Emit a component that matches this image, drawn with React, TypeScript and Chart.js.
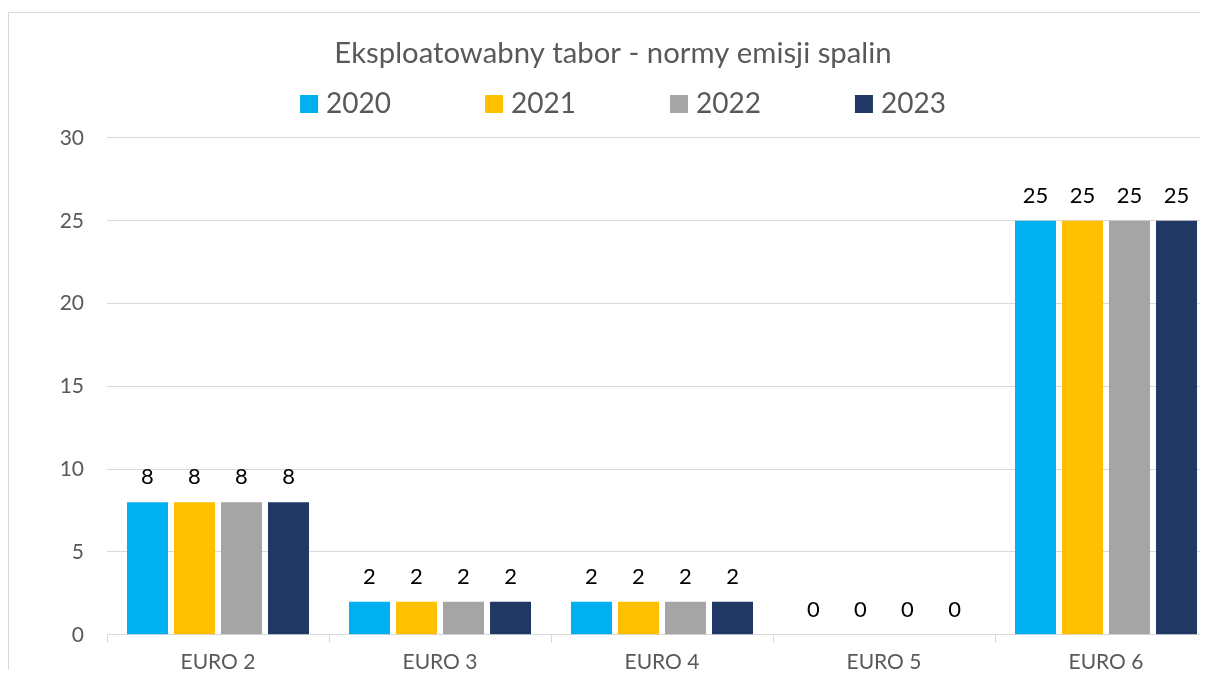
import React, { useEffect, useRef } from "react";
import { Chart, registerables } from "chart.js";

Chart.register(...registerables);

const TITLE = "Eksploatowabny tabor - normy emisji spalin";
const CATEGORIES = ["EURO 2", "EURO 3", "EURO 4", "EURO 5", "EURO 6"];
const YEARS = ["2020", "2021", "2022", "2023"];
const VALUES_2020 = [8, 2, 2, 0, 25];
const VALUES_2021 = [8, 2, 2, 0, 25];
const VALUES_2022 = [8, 2, 2, 0, 25];
const VALUES_2023 = [8, 2, 2, 0, 25];
const SERIES = [VALUES_2020, VALUES_2021, VALUES_2022, VALUES_2023];
const COLORS = ["#00B0F0", "#FFC000", "#A5A5A5", "#203864"];
const Y_MIN = 0;
const Y_MAX = 30;
const Y_STEP = 5;

const FONT = "Lato, 'Open Sans', sans-serif";
const GRAY_TEXT = "#595959";
const GRID = "#D9D9D9";

const dataLabelPlugin = {
  id: "dataLabels",
  afterDatasetsDraw(chart: any) {
    const ctx = chart.ctx;
    ctx.save();
    ctx.font = `22px ${FONT}`;
    ctx.fillStyle = "#000000";
    ctx.textAlign = "center";
    ctx.textBaseline = "alphabetic";
    chart.data.datasets.forEach((ds: any, i: number) => {
      const meta = chart.getDatasetMeta(i);
      meta.data.forEach((el: any, j: number) => {
        ctx.fillText(String(ds.data[j]), el.x, el.y - 18);
      });
    });
    ctx.restore();
  },
};

const customLegendPlugin = {
  id: "customLegend",
  afterDraw(chart: any) {
    const ctx = chart.ctx;
    ctx.save();
    const fontSize = 28;
    ctx.font = `${fontSize}px ${FONT}`;
    ctx.textBaseline = "middle";
    ctx.textAlign = "left";
    const box = 18;
    const gapBoxText = 8;
    const gapItems = 94;
    const items = chart.data.datasets.map((ds: any) => ({
      text: ds.label,
      color: ds.backgroundColor,
      w: box + gapBoxText + ctx.measureText(ds.label).width,
    }));
    const total = items.reduce((s: number, it: any) => s + it.w, 0) + gapItems * (items.length - 1);
    const centerX = 614;
    const cy = 91;
    let x = centerX - total / 2;
    items.forEach((it: any) => {
      ctx.fillStyle = it.color;
      ctx.fillRect(x, cy - box / 2, box, box);
      ctx.fillStyle = GRAY_TEXT;
      ctx.fillText(it.text, x + box + gapBoxText, cy);
      x += it.w + gapItems;
    });
    ctx.restore();
  },
};

export default function App() {
  const ref = useRef<HTMLCanvasElement>(null);

  useEffect(() => {
    const prevHtml = document.documentElement.style.overflow;
    document.documentElement.style.overflow = "hidden";
    const chart = new Chart(ref.current as HTMLCanvasElement, {
      type: "bar",
      data: {
        labels: CATEGORIES,
        datasets: YEARS.map((y, i) => ({
          label: y,
          data: SERIES[i],
          backgroundColor: COLORS[i],
          borderWidth: 0,
          categoryPercentage: 0.847,
          barPercentage: 0.872,
        })),
      },
      options: {
        responsive: false,
        animation: false,
        devicePixelRatio: 1,
        layout: { padding: { left: 0, right: 32, top: 0, bottom: 31 } },
        plugins: {
          legend: { display: false },
          tooltip: { enabled: false },
          title: {
            display: true,
            text: TITLE,
            color: GRAY_TEXT,
            font: { family: FONT, size: 29.3, weight: "normal" },
            padding: { top: 23, bottom: 66.8 },
          },
        },
        scales: {
          x: {
            grid: {
              offset: true,
              drawOnChartArea: false,
              drawTicks: true,
              tickLength: 8,
              color: GRID,
            },
            border: { display: true, color: GRID, width: 1 },
            ticks: {
              color: GRAY_TEXT,
              font: { family: FONT, size: 21 },
              padding: 7,
            },
          },
          y: {
            min: Y_MIN,
            max: Y_MAX,
            afterFit: (scale: any) => {
              scale.width = 98;
            },
            ticks: {
              stepSize: Y_STEP,
              color: GRAY_TEXT,
              font: { family: FONT, size: 21 },
              padding: 23,
            },
            grid: { color: GRID, drawTicks: false, lineWidth: 1 },
            border: { display: false },
          },
        },
      },
      plugins: [dataLabelPlugin, customLegendPlugin],
    });
    return () => {
      chart.destroy();
      document.documentElement.style.overflow = prevHtml;
    };
  }, []);

  return (
    <div
      style={{
        width: 1200,
        height: 670,
        marginBottom: -8,
        overflow: "hidden",
        position: "relative",
        background: "#fff",
      }}
    >
      <div
        style={{
          position: "absolute",
          left: 0,
          top: 4,
          width: 1240,
          height: 700,
          border: "1px solid #D9D9D9",
          background: "#fff",
        }}
      >
        <canvas ref={ref} width={1240} height={700} style={{ display: "block", width: 1240, height: 700 }} />
      </div>
    </div>
  );
}
